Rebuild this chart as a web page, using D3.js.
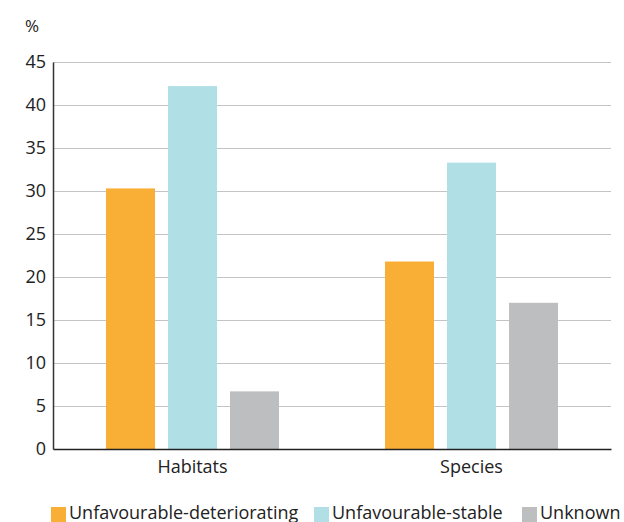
<!DOCTYPE html>
<html>
<head>
<meta charset="utf-8">
<script src="https://cdnjs.cloudflare.com/ajax/libs/d3/7.8.5/d3.min.js"></script>
<style>
  body { margin: 0; background: #fff; }
  svg text { font-family: "Open Sans", sans-serif; fill: #222; }
</style>
</head>
<body>
<div id="chart"></div>
<script>
var categories = ["Habitats", "Species"];
var seriesNames = ["Unfavourable-deteriorating", "Unfavourable-stable", "Unknown"];
var deteriorating = [30.3, 21.8];
var stable = [42.2, 33.3];
var unknown = [6.7, 17.0];
var yTicks = [0, 5, 10, 15, 20, 25, 30, 35, 40, 45];
var colors = ["#f9ae36", "#b0e0e6", "#bdbec0"];

var width = 624, height = 522;
var margin = { left: 53, right: 611, top: 62, bottom: 449 };
var legendX = [51, 314, 522];

var svg = d3.select("#chart").append("svg")
    .attr("width", width).attr("height", height);

var rows = categories.map(function (c, i) {
  return { cat: c, values: [deteriorating[i], stable[i], unknown[i]] };
});

var x0 = d3.scaleBand().domain(categories).range([margin.left, margin.right])
    .paddingInner(0.38).paddingOuter(0.19);
var x1 = d3.scaleBand().domain(seriesNames).range([0, x0.bandwidth()])
    .paddingInner(0.21);
var y = d3.scaleLinear().domain([0, 45]).range([margin.bottom, margin.top]);

// gridlines
svg.append("g").selectAll("line").data(yTicks.slice(1)).enter().append("line")
    .attr("x1", margin.left).attr("x2", margin.right)
    .attr("y1", function (d) { return Math.round(y(d)) + 0.5; })
    .attr("y2", function (d) { return Math.round(y(d)) + 0.5; })
    .attr("stroke", "#c4c4c4").attr("stroke-width", 1);

// bars
var groups = svg.append("g").selectAll("g").data(rows).enter().append("g")
    .attr("transform", function (d) { return "translate(" + x0(d.cat) + ",0)"; });
groups.selectAll("rect").data(function (d) {
  return d.values.map(function (v, i) { return { name: seriesNames[i], v: v, i: i }; });
}).enter().append("rect")
    .attr("x", function (d) { return x1(d.name); })
    .attr("width", x1.bandwidth())
    .attr("y", function (d) { return y(d.v); })
    .attr("height", function (d) { return y(0) - y(d.v); })
    .attr("fill", function (d) { return colors[d.i]; });

// y axis
var yAxis = svg.append("g").attr("transform", "translate(" + margin.left + ",0)")
    .call(d3.axisLeft(y).tickValues(yTicks).tickSize(0).tickPadding(7));
yAxis.select(".domain").attr("stroke", "#333").attr("stroke-width", 1.5);
yAxis.selectAll("text").style("font-size", "18px").attr("fill", "#222")
    .style("font-family", "'Open Sans', sans-serif");

// x axis
var xAxis = svg.append("g").attr("transform", "translate(0," + margin.bottom + ")")
    .call(d3.axisBottom(x0).tickSize(0).tickPadding(11).tickSizeOuter(0));
xAxis.select(".domain").attr("stroke", "#222").attr("stroke-width", 1.5);
xAxis.selectAll("text").style("font-size", "18px").attr("fill", "#222")
    .style("font-family", "'Open Sans', sans-serif");

// unit label
svg.append("text").attr("x", 25).attr("y", 32).style("font-size", "17px").text("%");

// legend
seriesNames.forEach(function (name, i) {
  svg.append("rect").attr("x", legendX[i]).attr("y", 507).attr("width", 15).attr("height", 15)
      .attr("fill", colors[i]);
  svg.append("text").attr("x", legendX[i] + 18).attr("y", 519)
      .style("font-size", "18px").text(name);
});
</script>
</body>
</html>
